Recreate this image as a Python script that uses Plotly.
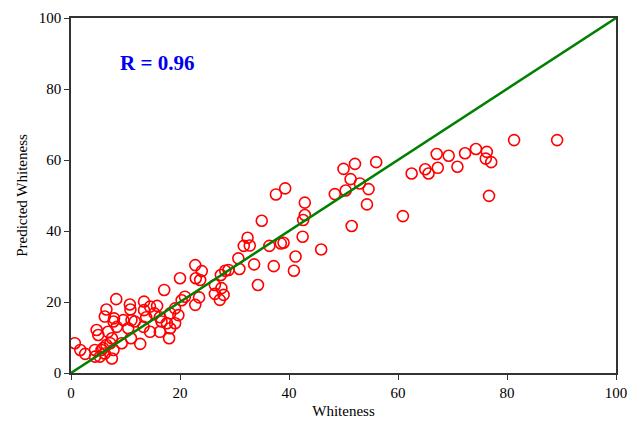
import plotly.graph_objects as go

measured = [81.3, 89.2, 76.3, 76.1, 77.1, 74.3, 72.3, 70.9, 69.3, 67.1, 67.3, 65.6, 65.0, 62.5, 60.9, 76.7,
            56.0, 52.1, 50.0, 51.3, 53.0, 54.6, 50.4, 48.4, 54.3, 51.5, 42.9, 42.9, 42.6, 42.5, 45.9,
            39.3, 37.6, 35.0, 39.0, 38.5, 36.4, 41.2, 40.9, 37.2, 33.6, 32.4, 31.7, 32.8, 30.7, 30.9,
            34.3, 28.9, 28.3, 27.5, 22.8, 24.0, 22.9, 20.0, 23.7, 26.4, 27.6, 28.0, 26.4, 27.3, 23.5,
            20.9, 22.8, 20.3, 17.1, 13.4, 10.8, 10.9, 8.3, 6.5, 6.2, 13.4, 14.5, 15.8, 15.3, 18.2,
            19.1, 19.7, 13.8, 16.3, 16.6, 17.6, 19.1, 18.2, 18.0, 16.3, 14.5, 13.3, 11.7, 11.1, 9.6,
            10.5, 12.7, 11.0, 8.4, 7.8, 4.7, 5.0, 6.8, 7.5, 7.2, 7.8, 5.9, 4.4, 4.4, 7.5, 5.3, 0.7,
            1.7, 2.6, 6.2, 6.5, 9.3, 5.6, 7.9]
predicted = [65.6, 65.6, 62.3, 60.4, 59.4, 63.1, 61.9, 58.1, 61.2, 61.7, 57.8, 56.2, 57.4, 56.2, 44.2, 49.9,
             59.4, 58.9, 57.5, 54.6, 53.4, 51.8, 51.4, 50.4, 47.5, 41.4, 48.0, 44.5, 43.1, 38.4, 34.8,
             52.0, 50.3, 42.9, 36.7, 36.5, 35.8, 32.8, 28.8, 30.1, 30.6, 38.1, 35.8, 35.9, 32.3, 29.3,
             24.8, 29.0, 28.8, 27.6, 30.4, 28.7, 26.7, 26.7, 26.2, 24.8, 23.9, 22.0, 22.3, 20.6, 21.3,
             21.5, 19.2, 20.5, 23.4, 20.1, 19.3, 17.9, 20.8, 17.9, 15.9, 17.7, 18.7, 18.9, 16.8, 16.8,
             18.2, 16.3, 15.7, 15.7, 14.5, 14.0, 14.0, 12.6, 9.8, 11.6, 11.6, 13.0, 14.5, 14.9, 14.9,
             12.6, 8.2, 9.8, 13.0, 14.5, 12.1, 10.7, 11.6, 9.8, 8.4, 6.5, 7.0, 6.5, 4.6, 4.1, 4.6, 8.4,
             6.5, 5.4, 5.5, 7.9, 8.4, 6.5, 15.4]
line_x = [0, 100]
line_y = [0, 100]
r_label = "R = 0.96"
x_title = "Whiteness"
y_title = "Predicted Whiteness"
ticks = [0, 20, 40, 60, 80, 100]

fig = go.Figure()
fig.add_trace(go.Scatter(
    x=measured, y=predicted, mode="markers",
    marker=dict(symbol="circle-open", size=11, color="red", line=dict(width=1.6, color="red")),
    showlegend=False))
fig.add_trace(go.Scatter(
    x=line_x, y=line_y, mode="lines",
    line=dict(color="#008000", width=2.5), showlegend=False))

fig.add_annotation(x=15.8, y=87.3, xref="x", yref="y", text="<b>" + r_label + "</b>",
                   showarrow=False, font=dict(family="Liberation Serif", size=21, color="#0000ee"))

axis_common = dict(range=[0, 100], tickvals=ticks, showline=True, mirror=True,
                   linecolor="#333333", linewidth=1.5, ticks="outside", ticklen=5,
                   tickcolor="#333333", tickwidth=1.2, showgrid=False, zeroline=False,
                   automargin=False,
                   tickfont=dict(family="Liberation Serif", size=15, color="black"))

fig.update_layout(
    width=628, height=421,
    margin=dict(l=71, r=12, t=18, b=48),
    paper_bgcolor="white", plot_bgcolor="white",
    xaxis=dict(**axis_common, title=dict(text=x_title, standoff=6,
               font=dict(family="Liberation Serif", size=15, color="black"))),
    yaxis=dict(**axis_common, title=dict(text=y_title, standoff=8,
               font=dict(family="Liberation Serif", size=15, color="black"))),
)

fig.write_html("out.html", config={"displayModeBar": False},
               post_script="document.body.style.margin='0';document.body.style.overflow='hidden';")
